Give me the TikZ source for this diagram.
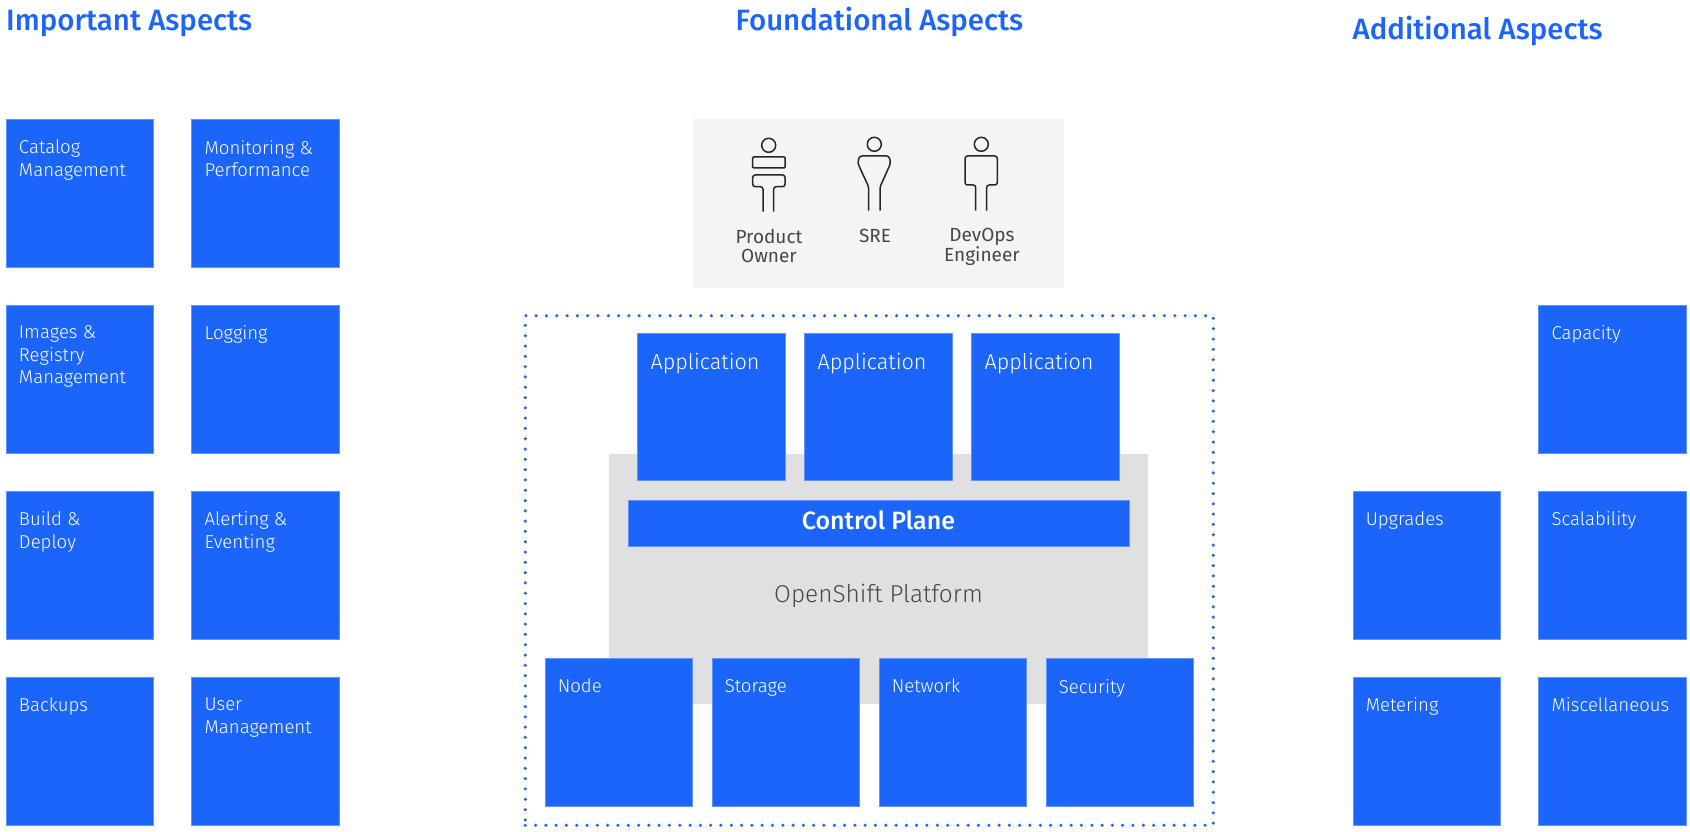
\documentclass[tikz,border=0pt]{standalone}
\usepackage{fontspec}
\setmainfont{Fira Sans Light}
\newfontfamily\medf{Fira Sans Medium}
\newfontfamily\regf{Fira Sans}
\definecolor{ibmblue}{HTML}{1C65FB}
\definecolor{pale}{HTML}{F4F4F4}
\definecolor{platform}{HTML}{E0E0E0}
\definecolor{ink}{HTML}{262626}
\tikzset{
  bluebox/.style={draw=ibmblue!70!white,line width=.6pt,fill=ibmblue,anchor=north west,inner sep=0pt,minimum width=147.6pt,minimum height=147.6pt},
  boxtext/.style={anchor=north west,inner sep=0pt,text=white,align=left,font=\fontsize{18.6}{22.6}\selectfont},
  apptext/.style={anchor=north west,inner sep=0pt,text=white,font=\fontsize{21.6}{26}\selectfont},
  heading/.style={anchor=base west,inner sep=0pt,text=ibmblue,font=\medf\fontsize{29.4}{34}\selectfont},
  roletext/.style={anchor=north,inner sep=0pt,align=center,text=ink!85!white,font=\regf\fontsize{19}{19.5}\selectfont},
  icon/.style={draw=ink,line width=1.5pt,rounded corners=2.5pt},
  dottedframe/.style={draw=ibmblue,line width=3.5pt,line cap=round,dash pattern=on 0pt off 10.3pt}
}
\newcommand{\bx}[4]{%
  \node[bluebox] (#1) at (#2,#3) {};
  \node[boxtext] (#1t) at (#2+13,#3+20.6) {#4};}
\newcommand{\ap}[3]{%
  \node[bluebox] (#1) at (#2,#3) {};
  \node[apptext] (#1t) at (#2+13,#3+20) {Application};}
\begin{document}
\begin{tikzpicture}[x=1pt,y=-1pt]
\useasboundingbox (0,0) rectangle (1690,832);
% headings
\node[heading] (h1) at (6,30.5) {Important Aspects};
\node[heading] (h2) at (735.5,30.5) {Foundational Aspects};
\node[heading] (h3) at (1352.5,39.5) {Additional Aspects};
% left columns
\bx{a1}{5.8}{119.3}{Catalog\\Management}
\bx{a2}{191.4}{119.3}{Monitoring \&\\Performance}
\bx{a3}{5.8}{305}{Images \&\\Registry\\Management}
\bx{a4}{191.4}{305}{Logging}
\bx{a5}{5.8}{491}{Build \&\\Deploy}
\bx{a6}{191.4}{491}{Alerting \&\\Eventing}
\bx{a7}{5.8}{677}{Backups}
\bx{a8}{191.4}{677}{User\\Management}
% roles panel
\node[fill=pale,anchor=north west,inner sep=0pt,minimum width=371.5pt,minimum height=168pt] (panel) at (692.7,119.3) {};
% icon 1
\draw[icon,rounded corners=0pt] (768.7,145.3) circle (7);
\draw[icon,rounded corners=1pt] (752.7,157) rectangle (785,168);
\draw[icon] (763,211.7) -- (763,186.7) -- (752.7,186.7) -- (752.7,175) -- (785,175) -- (785,186.7) -- (773.7,186.7) -- (773.7,211.7);
\node[roletext] (r1) at (769,229) {Product\\Owner};
% icon 2
\draw[icon,rounded corners=0pt] (874.3,144.3) circle (7);
\draw[icon] (868.7,210.7) -- (868.7,187) -- (857.7,163) -- (859.5,156) -- (889,156) -- (890.7,163) -- (880,187) -- (880,210.7);
\node[roletext] (r2) at (875,228.5) {SRE};
% icon 3
\draw[icon,rounded corners=0pt] (981.3,144.3) circle (7);
\draw[icon] (975.7,210.7) -- (975.7,185) -- (965,185) -- (965,156) -- (997.3,156) -- (997.3,185) -- (986.7,185) -- (986.7,210.7);
\node[roletext] (r3) at (982,228) {DevOps\\Engineer};
% frame
\node[dottedframe,anchor=north west,inner sep=0pt,minimum width=688pt,minimum height=509.5pt] (frame) at (525.5-2,314) {};
% platform
\node[fill=platform,anchor=north west,inner sep=0pt,minimum width=538.7pt,minimum height=250.7pt] (plat) at (609.2,453.3) {};
\ap{p1}{637.4}{332.8}
\ap{p2}{804.4}{332.8}
\ap{p3}{971.4}{332.8}
\node[draw=ibmblue!70!white,line width=.6pt,fill=ibmblue,anchor=north west,inner sep=0pt,minimum width=501pt,minimum height=45.5pt] (cp) at (628,500) {};
\node[inner sep=0pt,text=white,font=\medf\fontsize{25}{29}\selectfont] (cpt) at (878.5,520.5) {Control Plane};
\node[inner sep=0pt,text=ink!85!white,font=\fontsize{24.4}{28}\selectfont] (os) at (878.5,596) {OpenShift Platform};
\bx{n1}{544.6}{658.3}{Node}
\bx{n2}{711.6}{658.3}{Storage}
\bx{n3}{878.6}{658.3}{Network}
\bx{n4}{1045.6}{658.3}{Security}
% right columns
\bx{c1}{1538.4}{305}{Capacity}
\bx{c2}{1352.6}{491}{Upgrades}
\bx{c3}{1538.4}{491}{Scalability}
\bx{c4}{1352.6}{677}{Metering}
\bx{c5}{1538.4}{677}{Miscellaneous}
\end{tikzpicture}
\end{document}
